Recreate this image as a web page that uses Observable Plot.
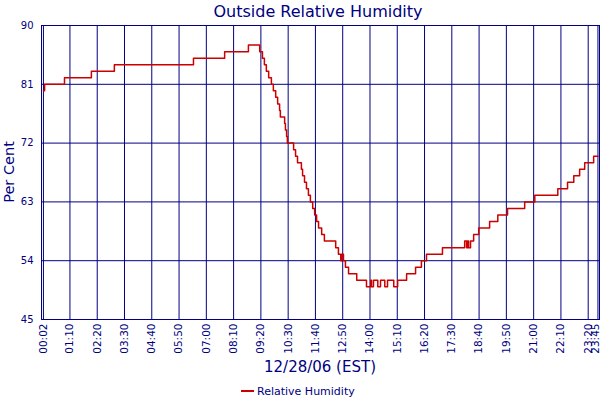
<!DOCTYPE html>
<html><head><meta charset="utf-8">
<script src="https://cdn.jsdelivr.net/npm/d3@7"></script>
<script src="https://cdn.jsdelivr.net/npm/@observablehq/plot@0.6"></script>
<style>body{margin:0;background:#fff}</style></head>
<body><div id="chart"></div>
<script>
const times = ["00:02","00:05","00:56","02:05","03:04","06:27","07:47","08:48","09:17","09:24","09:29","09:34","09:40","09:47","09:52","09:58","10:03","10:08","10:10","10:21","10:23","10:26","10:28","10:44","10:49","10:54","11:04","11:07","11:12","11:17","11:22","11:27","11:33","11:38","11:43","11:48","11:56","12:03","12:32","12:39","12:45","12:47","12:52","12:57","13:05","13:26","13:51","14:02","14:04","14:09","14:20","14:27","14:38","14:45","15:01","15:11","15:34","15:57","16:12","16:25","17:06","18:03","18:08","18:11","18:13","18:18","18:26","18:39","19:07","19:28","19:53","20:37","21:03","22:02","22:27","22:43","22:58","23:11","23:34","23:45"];
const values = [80,81,82,83,84,85,86,87,86,85,84,83,82,81,80,79,78,77,76,75,74,73,72,71,70,69,68,67,66,65,64,63,62,61,60,59,58,57,56,55,54,55,54,53,52,51,50,51,50,51,50,51,50,51,50,51,52,53,54,55,56,57,56,57,56,57,58,59,60,61,62,63,64,65,66,67,68,69,70,70];
const tickLabels = ["00:02","01:10","02:20","03:30","04:40","05:50","07:00","08:10","09:20","10:30","11:40","12:50","14:00","15:10","16:20","17:30","18:40","19:50","21:00","22:10","23:20","23:45"];
const yTicks = [45,54,63,72,81,90];
const title = "Outside Relative Humidity";
const xLabel = "12/28/06 (EST)";
const yLabel = "Per Cent";
const seriesName = "Relative Humidity";

const toMin = s => { const [h, m] = s.split(":").map(Number); return h * 60 + m; };
const data = times.map((t, i) => ({x: toMin(t), y: values[i]}));
const ticks = tickLabels.map(toMin);
const mainTicks = ticks.slice(0, -1);
const lastTick = ticks.slice(-1);
const navy = "#000080";
const red = "#CC0000";
const font = "DejaVu Sans, Verdana, sans-serif";

const chart = Plot.plot({
  width: 600, height: 400,
  marginTop: 25, marginLeft: 41, marginRight: 1, marginBottom: 81,
  style: {fontFamily: font, color: navy, background: "#fff", overflow: "visible"},
  x: {domain: [-3, 1429], axis: null},
  y: {domain: [45, 90], axis: null},
  marks: [
    Plot.ruleX(ticks, {stroke: navy, strokeWidth: 1}),
    Plot.ruleY(yTicks, {stroke: navy, strokeWidth: 1}),
    Plot.frame({stroke: navy}),
    Plot.line(data, {x: "x", y: "y", curve: "step-after", stroke: red, strokeWidth: 1.5}),
    Plot.axisY(yTicks, {tickSize: 0, tickPadding: 8, fontSize: 10, label: null, fill: navy}),
    Plot.text(mainTicks, {x: d => d, frameAnchor: "bottom", text: (d, i) => tickLabels[i], rotate: -90,
      textAnchor: "end", lineAnchor: "middle", dy: 4, fontSize: 10.5, fill: navy}),
    Plot.text(lastTick, {x: d => d, frameAnchor: "bottom", text: () => tickLabels[tickLabels.length - 1], rotate: -90,
      textAnchor: "end", lineAnchor: "middle", dy: 4, dx: -2.5, fontSize: 10.5, fill: navy})
  ]
});
document.getElementById("chart").appendChild(chart);

const svg = d3.select(chart);
svg.append("text").attr("x", 318).attr("y", 17).attr("text-anchor", "middle")
  .attr("font-size", 16).attr("font-family", font).attr("fill", navy).text(title);
svg.append("text").attr("transform", "translate(14,172) rotate(-90)").attr("text-anchor", "middle")
  .attr("font-size", 14.5).attr("font-family", font).attr("fill", navy).text(yLabel);
svg.append("text").attr("x", 320).attr("y", 372).attr("text-anchor", "middle")
  .attr("font-size", 15).attr("font-family", font).attr("fill", navy).text(xLabel);
svg.append("line").attr("x1", 241).attr("x2", 254).attr("y1", 391).attr("y2", 391)
  .attr("stroke", red).attr("stroke-width", 2);
svg.append("text").attr("x", 257).attr("y", 395).attr("text-anchor", "start")
  .attr("font-size", 11).attr("font-family", font).attr("fill", navy).text(seriesName);
</script>
</body></html>
